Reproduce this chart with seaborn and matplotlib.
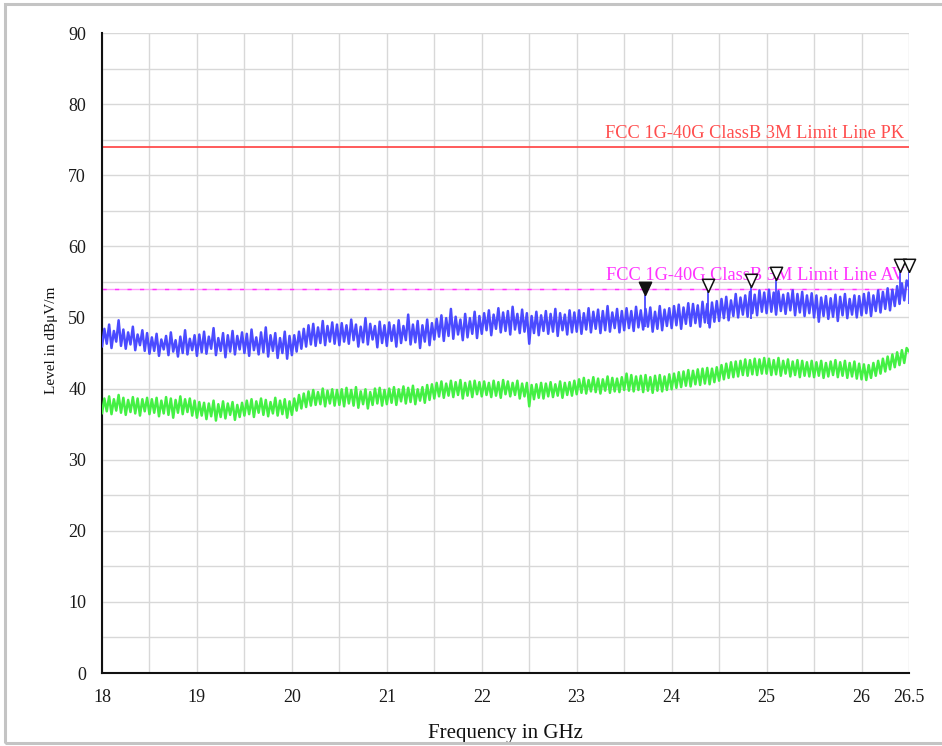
import numpy as np
import pandas as pd
import matplotlib
matplotlib.use("Agg")
import matplotlib.pyplot as plt
from matplotlib.patches import Rectangle
from matplotlib.ticker import MultipleLocator, FixedLocator
import seaborn as sns

# Scan range and trace step (GHz)
f_start, f_stop, f_step = 18.0, 26.5, 0.025

# Peak detector trace (dBuV/m), 20 samples per 0.5 GHz
peak_trace = [
    45.9, 48.4, 46.3, 49.0, 45.7, 48.1, 46.6, 49.6, 46.0, 48.3, 45.6, 47.9, 46.2, 48.7, 45.4, 47.6, 46.1, 48.2, 45.3, 47.8,
    44.9, 47.2, 45.3, 47.7, 44.6, 46.9, 45.5, 47.4, 44.7, 47.9, 45.2, 46.8, 44.5, 47.3, 45.0, 48.2, 44.8, 47.0, 45.4, 47.5,
    44.6, 47.6, 45.1, 48.0, 44.9, 47.3, 45.6, 48.5, 44.7, 47.1, 45.3, 47.8, 44.4, 47.5, 45.2, 48.1, 44.8, 47.4, 45.5, 47.9,
    45.0, 47.7, 44.6, 48.3, 45.4, 47.2, 44.8, 47.9, 45.1, 48.6, 44.5, 47.5, 45.3, 47.8, 44.3, 47.1, 45.0, 48.0, 44.2, 47.4,
    44.7, 47.5, 45.2, 48.0, 45.6, 48.4, 45.9, 48.9, 46.2, 49.1, 46.0, 48.6, 46.4, 49.5, 46.1, 48.8, 46.6, 49.3, 46.3, 49.0,
    46.1, 49.2, 46.6, 48.9, 46.3, 49.7, 46.8, 49.0, 45.9, 48.7, 46.5, 49.9, 46.2, 49.1, 46.9, 48.8, 45.8, 49.4, 46.4, 48.9,
    46.0, 49.3, 46.7, 48.9, 45.9, 49.6, 46.4, 48.8, 46.8, 50.4, 46.2, 49.0, 46.5, 49.5, 45.7, 48.9, 46.6, 49.7, 46.1, 49.2,
    46.9, 49.8, 47.3, 50.3, 46.7, 49.9, 47.4, 51.2, 47.0, 50.1, 47.6, 49.7, 46.8, 50.5, 47.2, 49.9, 47.7, 50.8, 47.1, 50.2,
    47.7, 50.6, 48.2, 51.0, 47.5, 50.4, 48.4, 51.3, 47.9, 50.7, 48.1, 50.9, 47.6, 51.5, 48.3, 50.5, 47.8, 51.1, 48.0, 50.6,
    46.3, 50.2, 47.8, 50.8, 47.5, 50.3, 48.1, 50.9, 47.7, 50.5, 48.0, 51.2, 47.4, 50.6, 48.2, 50.4, 47.6, 51.0, 47.9, 50.7,
    48.0, 51.0, 47.7, 50.6, 48.3, 51.3, 47.9, 50.8, 48.4, 51.1, 47.8, 50.9, 48.2, 51.6, 48.0, 50.7, 48.5, 51.2, 47.9, 50.9,
    48.2, 51.3, 48.5, 50.9, 48.1, 51.5, 48.6, 51.0, 48.3, 51.2, 48.7, 51.4, 48.0, 50.8, 48.4, 51.6, 48.2, 51.1, 48.8, 51.3,
    48.5, 51.6, 48.9, 51.8, 48.4, 51.4, 49.1, 52.0, 48.8, 51.9, 49.2, 51.7, 48.7, 52.2, 49.3, 51.9, 48.6, 52.1, 49.4, 52.3,
    49.5, 52.6, 49.9, 52.9, 49.6, 52.4, 50.2, 53.3, 50.0, 52.8, 50.4, 53.1, 50.1, 53.6, 50.6, 53.2, 50.3, 53.8, 50.8, 53.5,
    50.6, 53.9, 50.8, 53.5, 50.4, 53.7, 50.9, 53.2, 50.5, 53.4, 51.0, 53.8, 50.3, 53.3, 50.7, 53.6, 50.2, 53.1, 50.6, 53.4,
    50.0, 53.1, 49.4, 52.8, 50.2, 53.0, 49.8, 52.7, 50.1, 53.2, 49.5, 52.9, 50.3, 53.3, 49.9, 52.6, 50.4, 53.1, 50.0, 53.0,
    50.3, 53.3, 50.6, 53.5, 50.2, 53.1, 50.9, 53.8, 50.7, 53.6, 51.2, 54.1, 51.0, 53.9, 51.6, 54.4, 51.9, 54.8, 52.4, 55.2,
    54.3,
]

# Average detector trace (dBuV/m), same frequency grid
avg_trace = [
    36.5, 38.6, 36.8, 38.9, 36.4, 38.5, 36.9, 39.1, 36.6, 38.7, 36.3, 38.4, 36.7, 38.8, 36.5, 38.6, 36.2, 38.5, 36.8, 38.7,
    36.4, 38.5, 36.6, 38.7, 36.1, 38.3, 36.5, 38.8, 36.3, 38.6, 35.9, 38.4, 36.6, 38.9, 36.4, 38.5, 36.7, 38.6, 36.2, 38.3,
    35.9, 38.1, 36.2, 38.0, 35.7, 37.9, 36.1, 38.3, 35.5, 37.8, 36.0, 38.2, 35.8, 37.9, 36.3, 38.1, 35.6, 37.7, 36.0, 38.0,
    36.2, 38.3, 36.4, 38.5, 36.0, 38.2, 36.6, 38.6, 36.3, 38.4, 36.1, 38.1, 36.5, 38.7, 36.2, 38.3, 36.4, 38.5, 35.9, 38.2,
    36.3, 38.6, 36.9, 39.1, 37.2, 39.3, 37.4, 39.6, 37.6, 39.8, 37.7, 39.5, 37.8, 40.0, 37.5, 39.7, 37.9, 39.9, 37.6, 39.8,
    37.7, 39.9, 37.5, 40.1, 37.9, 39.8, 37.6, 40.2, 37.3, 39.6, 37.8, 39.9, 37.2, 39.5, 37.7, 40.0, 37.9, 40.1, 37.6, 39.8,
    37.8, 40.0, 38.0, 40.2, 37.7, 39.9, 38.2, 40.3, 37.9, 40.1, 38.1, 40.4, 37.8, 39.9, 38.3, 40.2, 38.0, 40.5, 38.4, 40.6,
    38.6, 40.8, 38.9, 41.0, 38.7, 40.7, 39.0, 41.1, 38.8, 40.9, 39.1, 41.2, 38.6, 40.8, 39.0, 41.0, 38.8, 41.1, 39.2, 40.9,
    38.9, 41.0, 39.1, 40.8, 38.8, 41.1, 39.0, 40.9, 38.7, 41.2, 39.2, 41.0, 38.9, 40.8, 39.1, 41.1, 38.6, 40.7, 38.9, 40.8,
    37.5, 40.5, 38.5, 40.6, 38.7, 40.8, 38.6, 40.7, 38.9, 40.9, 38.8, 40.6, 39.0, 41.0, 38.7, 40.8, 39.1, 40.9, 39.0, 41.1,
    39.2, 41.3, 39.4, 41.5, 39.3, 41.2, 39.6, 41.6, 39.5, 41.4, 39.3, 41.3, 39.7, 41.7, 39.4, 41.5, 39.6, 41.4, 39.5, 41.6,
    39.8, 42.1, 39.7, 41.9, 39.6, 41.7, 39.8, 41.8, 39.5, 41.9, 39.7, 41.6, 39.4, 41.8, 39.7, 41.9, 39.6, 41.7, 39.8, 42.0,
    39.9, 42.1, 40.1, 42.3, 40.2, 42.4, 40.4, 42.6, 40.3, 42.5, 40.6, 42.7, 40.5, 42.8, 40.7, 42.9, 40.6, 42.8, 40.9, 43.0,
    41.1, 43.3, 41.3, 43.5, 41.5, 43.7, 41.6, 43.8, 41.7, 43.9, 41.9, 44.1, 41.8, 44.0, 42.0, 44.2, 41.9, 44.1, 42.1, 44.3,
    42.1, 44.2, 41.9, 44.0, 42.0, 44.3, 41.8, 43.9, 42.1, 44.1, 41.7, 43.8, 41.9, 44.0, 41.6, 43.9, 41.8, 43.7, 41.7, 43.9,
    41.6, 43.7, 41.8, 43.9, 41.5, 43.6, 41.7, 43.8, 41.9, 44.0, 41.6, 43.7, 41.8, 43.9, 41.5, 43.6, 41.7, 43.8, 41.4, 43.5,
    41.3, 43.4, 41.2, 43.3, 41.5, 43.6, 41.8, 43.9, 42.1, 44.2, 42.4, 44.5, 42.7, 44.8, 43.0, 45.1, 43.3, 45.4, 43.6, 45.7,
    45.2,
]

# Limit lines
limit_pk = 74.0
limit_av = 54.0
limit_pk_label = "FCC 1G-40G ClassB 3M Limit Line PK"
limit_av_label = "FCC 1G-40G ClassB 3M Limit Line AV"

# Peak markers: frequency (GHz), level (dBuV/m), filled?
marker_freq = [23.72, 24.38, 24.84, 25.10, 26.40, 26.50]
marker_level = [53.2, 53.6, 54.3, 55.3, 56.4, 56.4]
marker_filled = [True, False, False, False, False, False]

x_ticks = [18, 19, 20, 21, 22, 23, 24, 25, 26, 26.5]
x_tick_labels = ["18", "19", "20", "21", "22", "23", "24", "25", "26", "26.5"]

freq = np.round(np.arange(len(peak_trace)) * f_step + f_start, 4)
df = pd.DataFrame({"freq": freq, "peak": peak_trace, "avg": avg_trace})

sns.set_theme(style="white")
plt.rcParams["font.family"] = ["Liberation Serif", "DejaVu Serif"]

fig = plt.figure(figsize=(9.42, 7.46), dpi=100)
fig.patch.set_facecolor("white")
fig.add_artist(Rectangle((5 / 942, 3 / 746), 1.2, 739 / 746, transform=fig.transFigure,
                         fill=False, edgecolor="#c4c4c4", lw=2.2))

ax = fig.add_axes([102 / 942, 1 - 673 / 746, 807 / 942, 640 / 746])
ax.set_xlim(f_start, f_stop)
ax.set_ylim(0, 90)

# grid every 0.5 GHz / 5 dB
ax.xaxis.set_minor_locator(MultipleLocator(0.5))
ax.yaxis.set_minor_locator(MultipleLocator(5))
ax.xaxis.set_major_locator(FixedLocator(x_ticks))
ax.yaxis.set_major_locator(MultipleLocator(10))
ax.set_xticklabels(x_tick_labels)
ax.grid(True, which="both", color="#d8d8d8", lw=1.0)
ax.set_axisbelow(True)

for s in ("top", "right"):
    ax.spines[s].set_visible(False)
for s in ("left", "bottom"):
    ax.spines[s].set_color("#111111")
    ax.spines[s].set_linewidth(1.5)

ax.tick_params(which="both", direction="inout", length=9, width=1.4, color="#111111",
               labelsize=13, labelcolor="#1a1a1a", pad=7)

# limit lines
ax.axhline(limit_pk, color="#ff4d4d", lw=1.3, zorder=2)
ax.axhline(limit_av, color="#ff9cff", lw=1.0, zorder=2)
ax.axhline(limit_av, color="#ff33ff", lw=1.0, dashes=(3, 6), zorder=2)

ax.text(26.45, limit_pk + 0.7, limit_pk_label, color="#ff4d4d", fontsize=13.2,
        ha="right", va="bottom", zorder=3)
ax.text(26.45, limit_av + 0.7, limit_av_label, color="#ff33ff", fontsize=13.2,
        ha="right", va="bottom", zorder=3)

# measured traces
sns.lineplot(data=df, x="freq", y="avg", ax=ax, color="#44f044", lw=1.8,
             estimator=None, sort=False, zorder=4)
sns.lineplot(data=df, x="freq", y="peak", ax=ax, color="#4b4bff", lw=1.8,
             estimator=None, sort=False, zorder=5)

# peak markers: spike from the trace up to the apex of the triangle
tri = [(0, 0), (-0.6, 1.3), (0.6, 1.3), (0, 0)]
for fx, lv, filled in zip(marker_freq, marker_level, marker_filled):
    ax.vlines(fx, lv - 4.5, lv, color="#4b4bff", lw=1.3, zorder=5)
    ax.plot([fx], [lv], marker=tri, markersize=19, clip_on=False,
            markerfacecolor="#111111" if filled else "white",
            markeredgecolor="#111111", markeredgewidth=1.1, zorder=6)

ax.set_xlabel("Frequency in GHz", fontsize=15, color="#111111", labelpad=13)
ax.set_ylabel("Level in dB\u03bcV/m", fontsize=11, color="#111111")
ax.yaxis.set_label_coords(-0.055, 0.52)

fig.savefig("out.png", dpi=100, facecolor="white")
